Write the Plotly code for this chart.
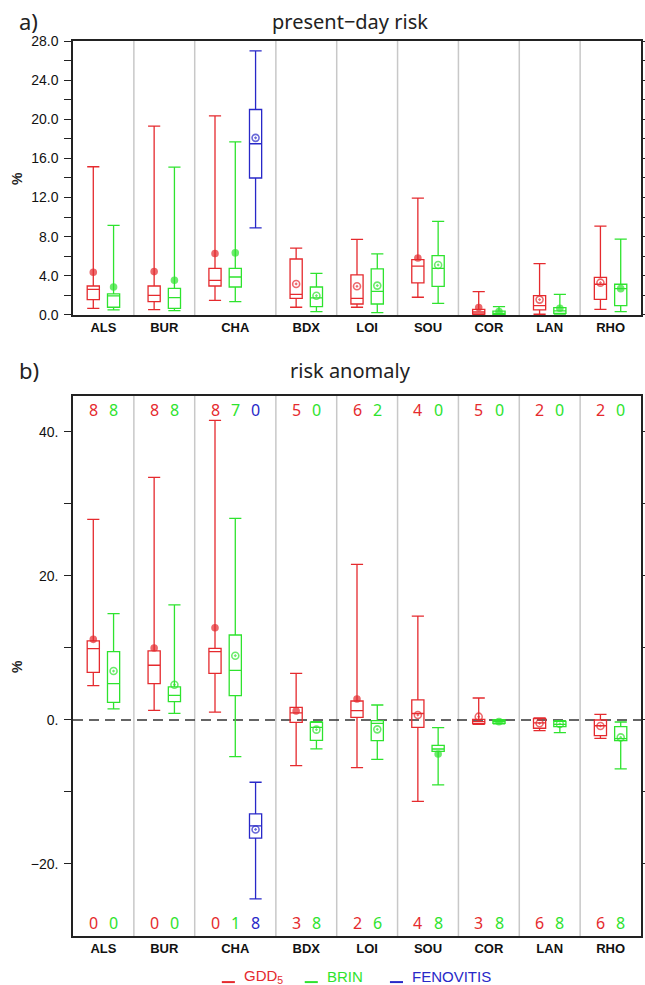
import plotly.graph_objects as go

# ---------------- data ----------------
categories = ["ALS", "BUR", "CHA", "BDX", "LOI", "SOU", "COR", "LAN", "RHO"]
models = ["GDD5", "BRIN", "FENOVITIS"]
model_labels = ["GDD<sub>5</sub>", "BRIN", "FENOVITIS"]
model_cats = {"GDD5": categories, "BRIN": categories, "FENOVITIS": ["CHA"]}

# panel a) present-day risk (%)
a_gdd_low = [0.68, 0.55, 1.50, 0.79, 0.79, 1.81, 0.00, 0.07, 0.58]
a_gdd_q1 = [1.57, 1.36, 2.96, 1.70, 1.12, 3.27, 0.10, 0.51, 1.60]
a_gdd_med = [2.62, 2.01, 3.54, 2.11, 1.70, 5.00, 0.30, 0.95, 3.14]
a_gdd_q3 = [2.96, 2.96, 4.77, 5.72, 4.09, 5.65, 0.58, 1.97, 3.85]
a_gdd_high = [15.15, 19.30, 20.35, 6.83, 7.72, 11.95, 2.38, 5.24, 9.08]
a_gdd_mean = [4.36, 4.43, 6.28, 3.17, 2.93, 5.82, 0.75, 1.57, 3.30]
a_gdd_filled = [True, True, True, False, False, True, True, False, False]

a_brin_low = [0.51, 0.44, 1.36, 0.34, 0.24, 1.19, 0.00, 0.10, 0.34]
a_brin_q1 = [0.79, 0.68, 2.86, 0.85, 1.12, 2.93, 0.05, 0.17, 0.95]
a_brin_med = [1.95, 1.77, 3.88, 1.75, 2.42, 4.77, 0.15, 0.41, 2.70]
a_brin_q3 = [2.15, 2.72, 4.77, 2.86, 4.70, 6.06, 0.40, 0.75, 3.14]
a_brin_high = [9.15, 15.10, 17.70, 4.26, 6.25, 9.56, 0.85, 2.11, 7.75]
a_brin_mean = [2.86, 3.54, 6.35, 1.97, 3.00, 5.11, 0.34, 0.68, 2.69]
a_brin_filled = [True, True, True, False, False, False, True, True, True]

a_fen_low = [8.9]
a_fen_q1 = [14.0]
a_fen_med = [17.5]
a_fen_q3 = [21.0]
a_fen_high = [27.0]
a_fen_mean = [18.1]
a_fen_filled = [False]

# panel b) risk anomaly (%)
b_gdd_low = [4.77, 1.34, 1.10, -6.34, -6.62, -11.30, -0.60, -1.48, -2.55]
b_gdd_q1 = [6.60, 5.05, 6.47, -0.32, 0.37, -1.02, -0.51, -1.15, -2.17]
b_gdd_med = [9.90, 7.60, 9.50, 1.00, 1.29, 0.90, -0.23, -0.40, -0.80]
b_gdd_q3 = [11.00, 9.60, 9.95, 1.76, 2.64, 2.78, 0.09, 0.18, 0.00]
b_gdd_high = [27.86, 33.70, 41.60, 6.47, 21.60, 14.43, 3.05, 0.28, 0.79]
b_gdd_mean = [11.20, 10.00, 12.80, 1.25, 2.91, 0.69, 0.46, -0.46, -0.83]
b_gdd_filled = [True, True, True, True, True, False, False, False, False]

b_brin_low = [1.53, 0.92, -5.09, -4.00, -5.46, -9.02, -0.55, -1.76, -6.80]
b_brin_q1 = [2.45, 2.55, 3.37, -2.82, -2.87, -4.35, -0.45, -0.93, -2.87]
b_brin_med = [5.05, 3.42, 6.90, -1.02, -0.46, -4.03, -0.20, -0.60, -2.60]
b_brin_q3 = [9.50, 4.60, 11.80, -0.32, -0.09, -3.52, 0.00, -0.20, -0.93]
b_brin_high = [14.76, 16.00, 28.00, -0.23, 2.08, -1.06, 0.05, -0.09, -0.28]
b_brin_mean = [6.80, 4.90, 8.93, -1.34, -1.30, -4.72, -0.23, -0.55, -2.41]
b_brin_filled = [False, False, False, False, False, True, True, False, False]

b_fen_low = [-24.85]
b_fen_q1 = [-16.40]
b_fen_med = [-14.70]
b_fen_q3 = [-13.05]
b_fen_high = [-8.65]
b_fen_mean = [-15.20]
b_fen_filled = [False]

# counts of models above / below (panel b)
b_top_gdd = [8, 8, 8, 5, 6, 4, 5, 2, 2]
b_top_brin = [8, 8, 7, 0, 2, 0, 0, 0, 0]
b_top_fen = [0]
b_bot_gdd = [0, 0, 0, 3, 2, 4, 3, 6, 6]
b_bot_brin = [0, 0, 1, 8, 6, 8, 8, 8, 8]
b_bot_fen = [8]

a_ticks = [0, 2, 4, 6, 8, 10, 12, 14, 16, 18, 20, 22, 24, 26, 28]
a_ticktext = ["0.0", "", "4.0", "", "8.0", "", "12.0", "", "16.0", "", "20.0", "", "24.0", "", "28.0"]
b_ticks = [-20, -10, 0, 10, 20, 30, 40]
b_ticktext = ["\u221220.", "", "0.", "", "20.", "", "40."]

colors = {"GDD5": "#e52a2e", "BRIN": "#2ee32e", "FENOVITIS": "#2828c8"}

# ---------------- positions from category structure ----------------
slot_size = {c: sum(1 for m in models if c in model_cats[m]) + 1 for c in categories}
starts = {}
acc = 0
for c in categories:
    starts[c] = acc
    acc += slot_size[c]
total = acc
centers = [starts[c] + slot_size[c] / 2 for c in categories]
separators = [starts[c] for c in categories[1:]]


def xpos(model):
    out = []
    for c in model_cats[model]:
        present = [m for m in models if c in model_cats[m]]
        out.append(starts[c] + 1 + present.index(model))
    return out


panel_a = {
    "GDD5": (a_gdd_low, a_gdd_q1, a_gdd_med, a_gdd_q3, a_gdd_high, a_gdd_mean, a_gdd_filled),
    "BRIN": (a_brin_low, a_brin_q1, a_brin_med, a_brin_q3, a_brin_high, a_brin_mean, a_brin_filled),
    "FENOVITIS": (a_fen_low, a_fen_q1, a_fen_med, a_fen_q3, a_fen_high, a_fen_mean, a_fen_filled),
}
panel_b = {
    "GDD5": (b_gdd_low, b_gdd_q1, b_gdd_med, b_gdd_q3, b_gdd_high, b_gdd_mean, b_gdd_filled),
    "BRIN": (b_brin_low, b_brin_q1, b_brin_med, b_brin_q3, b_brin_high, b_brin_mean, b_brin_filled),
    "FENOVITIS": (b_fen_low, b_fen_q1, b_fen_med, b_fen_q3, b_fen_high, b_fen_mean, b_fen_filled),
}
counts_top = {"GDD5": b_top_gdd, "BRIN": b_top_brin, "FENOVITIS": b_top_fen}
counts_bot = {"GDD5": b_bot_gdd, "BRIN": b_bot_brin, "FENOVITIS": b_bot_fen}

fig = go.Figure()

for panel, xa, ya in [(panel_a, "x", "y"), (panel_b, "x2", "y2")]:
    for m in models:
        low, q1, med, q3, high, mean, filled = panel[m]
        xs = xpos(m)
        c = colors[m]
        fig.add_trace(go.Box(
            x=xs, q1=q1, median=med, q3=q3, lowerfence=low, upperfence=high,
            width=0.6, whiskerwidth=1.0, line=dict(color=c, width=1.3),
            fillcolor="rgba(0,0,0,0)", boxpoints=False, showlegend=False,
            hoverinfo="skip", xaxis=xa, yaxis=ya,
        ))
        fig.add_trace(go.Scatter(
            x=xs, y=mean, mode="markers", showlegend=False, hoverinfo="skip",
            marker=dict(
                symbol=["circle" if f else "circle-open-dot" for f in filled],
                size=[6 if f else 7 for f in filled],
                color=c, line=dict(color=c, width=1.6),
            ),
            xaxis=xa, yaxis=ya,
        ))

font_txt = "Noto Sans"
annotations = []
for m in models:
    xs = xpos(m)
    for x, v in zip(xs, counts_top[m]):
        annotations.append(dict(x=x, y=0.974, xref="x2", yref="y2 domain", text=str(v),
                                xanchor="center", yanchor="middle", showarrow=False,
                                font=dict(family=font_txt, size=16, color=colors[m])))
    for x, v in zip(xs, counts_bot[m]):
        annotations.append(dict(x=x, y=0.024, xref="x2", yref="y2 domain", text=str(v),
                                xanchor="center", yanchor="middle", showarrow=False,
                                font=dict(family=font_txt, size=16, color=colors[m])))

# titles
annotations += [
    dict(x=0.4877, y=1.0223, xref="paper", yref="paper", text="present\u2212day risk", showarrow=False,
         xanchor="center", yanchor="middle", font=dict(family=font_txt, size=20, color="#222")),
    dict(x=-0.0775, y=1.0223, xref="paper", yref="paper", text="a)", showarrow=False,
         xanchor="center", yanchor="middle", font=dict(family=font_txt, size=22, color="#222")),
    dict(x=0.4877, y=0.6324, xref="paper", yref="paper", text="risk anomaly", showarrow=False,
         xanchor="center", yanchor="middle", font=dict(family=font_txt, size=20, color="#222")),
    dict(x=-0.0775, y=0.6324, xref="paper", yref="paper", text="b)", showarrow=False,
         xanchor="center", yanchor="middle", font=dict(family=font_txt, size=22, color="#222")),
    dict(x=-0.0986, y=0.847, xref="paper", yref="paper", text="<b>%</b>", textangle=-90, showarrow=False,
         xanchor="center", yanchor="middle", font=dict(family="Liberation Sans", size=14, color="#222")),
    dict(x=-0.0986, y=0.3017, xref="paper", yref="paper", text="<b>%</b>", textangle=-90, showarrow=False,
         xanchor="center", yanchor="middle", font=dict(family="Liberation Sans", size=14, color="#222")),
]

shapes = []
for s in separators:
    for xa, ya in [("x", "y domain"), ("x2", "y2 domain")]:
        shapes.append(dict(type="line", xref=xa, yref=ya, x0=s, x1=s, y0=0, y1=1,
                           line=dict(color="#c8c8c8", width=1.5), layer="below"))
shapes.append(dict(type="line", xref="x2 domain", yref="y2", x0=0, x1=1, y0=0, y1=0,
                   line=dict(color="#333", width=1.3, dash="10px,6px"), layer="below"))

# legend (manual)
leg_x = [0.262, 0.408, 0.558]
for m, lab, lx in zip(models, model_labels, leg_x):
    shapes.append(dict(type="line", xref="paper", yref="paper", x0=lx, x1=lx + 0.023,
                       y0=-0.0515, y1=-0.0515, line=dict(color=colors[m], width=2)))
    annotations.append(dict(x=lx + 0.035, y=-0.045, xref="paper", yref="paper", xanchor="left",
                            yanchor="middle", text=lab, showarrow=False,
                            font=dict(family="Liberation Sans", size=15, color=colors[m])))

axis_line = dict(showline=True, linecolor="#222", linewidth=1.5, mirror=True, showgrid=False,
                 zeroline=False, automargin=False)
xcommon = dict(range=[0, total], tickmode="array", tickvals=centers, ticktext=categories, ticks="",
               tickfont=dict(family="Liberation Sans", size=13, color="#111", weight="bold"), **axis_line)
ycommon = dict(ticks="outside", ticklen=7, tickwidth=1.3, tickcolor="#222", ticklabelstandoff=3,
               tickfont=dict(family="Liberation Sans", size=14, color="#111"))

fig.update_layout(
    width=645, height=985,
    margin=dict(l=73, r=4, t=41, b=49, autoexpand=False),
    paper_bgcolor="white", plot_bgcolor="white",
    boxmode="overlay",
    showlegend=False,
    xaxis=dict(domain=[0, 1], anchor="y", **xcommon),
    yaxis=dict(domain=[0.6939, 1], anchor="x", range=[0, 28], tickmode="array", tickvals=a_ticks,
               ticktext=a_ticktext, **ycommon, **{**axis_line, "mirror": "ticks"}),
    xaxis2=dict(domain=[0, 1], anchor="y2", **xcommon),
    yaxis2=dict(domain=[0, 0.6034], anchor="x2", range=[-30, 45], tickmode="array", tickvals=b_ticks,
                ticktext=b_ticktext, **ycommon, **{**axis_line, "mirror": "ticks"}),
    annotations=annotations,
    shapes=shapes,
)

fig.write_html("out.html", config={"displayModeBar": False},
               post_script="document.body.style.margin='0px';document.body.style.overflow='hidden';")
